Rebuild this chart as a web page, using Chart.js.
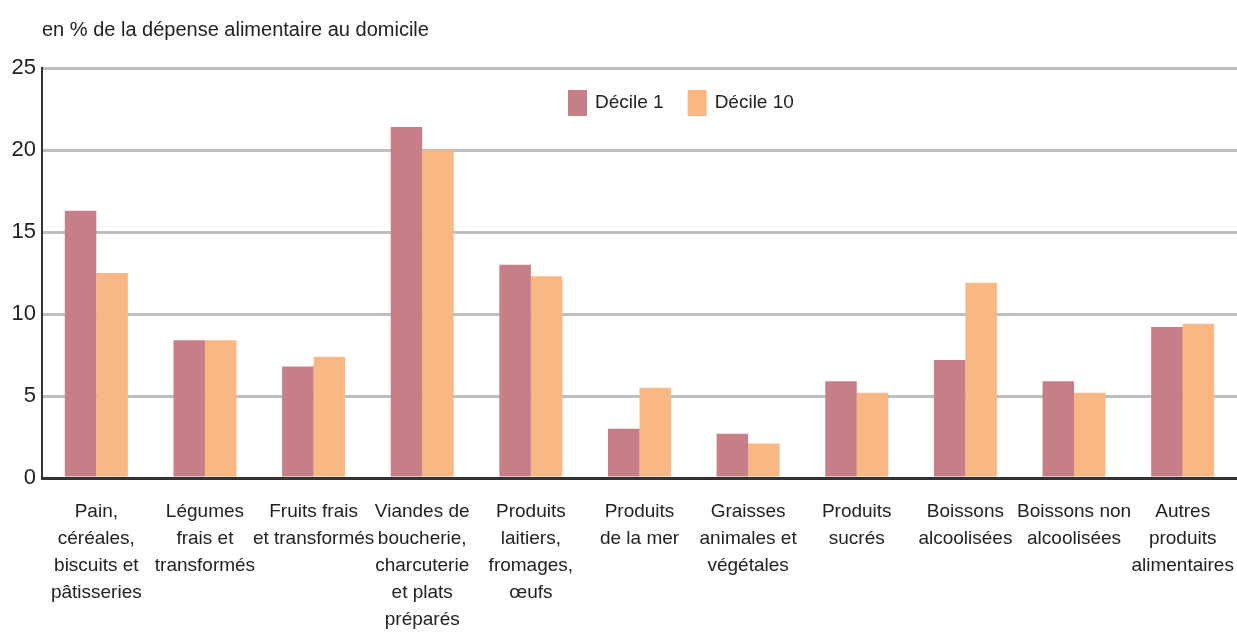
<!DOCTYPE html>
<html>
<head>
<meta charset="utf-8">
<script src="https://cdn.jsdelivr.net/npm/chart.js@4"></script>
<style>
  html, body { margin: 0; padding: 0; background: #fff; }
  #wrap { width: 1237px; height: 632px; }
</style>
</head>
<body>
<div id="wrap"><canvas id="chart" width="1237" height="632"></canvas></div>
<script>
var categories = [
    ['Pain,', 'céréales,', 'biscuits et', 'pâtisseries'],
    ['Légumes', 'frais et', 'transformés'],
    ['Fruits frais', 'et transformés'],
    ['Viandes de', 'boucherie,', 'charcuterie', 'et plats', 'préparés'],
    ['Produits', 'laitiers,', 'fromages,', 'œufs'],
    ['Produits', 'de la mer'],
    ['Graisses', 'animales et', 'végétales'],
    ['Produits', 'sucrés'],
    ['Boissons', 'alcoolisées'],
    ['Boissons non', 'alcoolisées'],
    ['Autres', 'produits', 'alimentaires']
];
var decile1 = [16.3, 8.4, 6.8, 21.4, 13.0, 3.0, 2.7, 5.9, 7.2, 5.9, 9.2];
var decile10 = [12.5, 8.4, 7.4, 20.0, 12.3, 5.5, 2.1, 5.2, 11.9, 5.2, 9.4];
var yTicks = [0, 5, 10, 15, 20, 25];
var unitLabel = 'en % de la dépense alimentaire au domicile';

var fontFamily = "'Liberation Sans Narrow', 'Arial Narrow', 'Liberation Sans', Arial, sans-serif";
var textColor = '#222222';

// titre de l'unité en haut à gauche
var unitTitle = {
    id: 'unitTitle',
    afterDraw: function (chart) {
        var ctx = chart.ctx;
        ctx.save();
        ctx.font = '20px ' + fontFamily;
        ctx.fillStyle = textColor;
        ctx.textBaseline = 'middle';
        ctx.textAlign = 'left';
        ctx.fillText(unitLabel, chart.chartArea.left, 30);
        ctx.restore();
    }
};

// légende dessinée dans la zone du graphique, en haut au centre
var innerLegend = {
    id: 'innerLegend',
    afterDatasetsDraw: function (chart) {
        var ctx = chart.ctx;
        var x = 568, top = 90, boxW = 19, boxH = 26;
        ctx.save();
        ctx.font = '19px ' + fontFamily;
        ctx.textBaseline = 'middle';
        ctx.textAlign = 'left';
        chart.data.datasets.forEach(function (ds) {
            ctx.fillStyle = ds.backgroundColor;
            ctx.fillRect(x, top, boxW, boxH);
            ctx.fillStyle = textColor;
            ctx.fillText(ds.label, x + boxW + 8, top + boxH / 2);
            x += boxW + 8 + ctx.measureText(ds.label).width + 24;
        });
        ctx.restore();
    }
};

var ctx = document.getElementById('chart').getContext('2d');
var chart = new Chart(ctx, {
    type: 'bar',
    data: {
        labels: categories,
        datasets: [{
            label: 'Décile 1',
            data: decile1,
            backgroundColor: '#c67f87',
            barPercentage: 1,
            categoryPercentage: 0.58
        }, {
            label: 'Décile 10',
            data: decile10,
            backgroundColor: '#f9b784',
            barPercentage: 1,
            categoryPercentage: 0.58
        }]
    },
    options: {
        responsive: false,
        animation: false,
        layout: { padding: { top: 68, left: 0, right: 0, bottom: 0 } },
        plugins: {
            tooltip: { enabled: false },
            legend: { display: false }
        },
        scales: {
            x: {
                grid: { display: false },
                border: { display: true, color: '#333333', width: 3 },
                ticks: {
                    autoSkip: false,
                    maxRotation: 0,
                    padding: 12,
                    color: textColor,
                    font: { family: fontFamily, size: 19, lineHeight: 1.42 }
                },
                afterFit: function (scale) {
                    scale.height = 154;
                    scale.paddingLeft = 0;
                    scale.paddingRight = 0;
                }
            },
            y: {
                min: yTicks[0],
                max: yTicks[yTicks.length - 1],
                afterBuildTicks: function (scale) {
                    scale.ticks = yTicks.map(function (v) { return { value: v }; });
                },
                grid: { color: '#bdbec2', lineWidth: 3, drawTicks: false },
                border: { display: true, color: '#333333', width: 2 },
                ticks: {
                    padding: 6,
                    color: textColor,
                    font: { family: fontFamily, size: 22 }
                },
                afterFit: function (scale) { scale.width = 42; }
            }
        }
    },
    plugins: [unitTitle, innerLegend]
});
</script>
</body>
</html>
